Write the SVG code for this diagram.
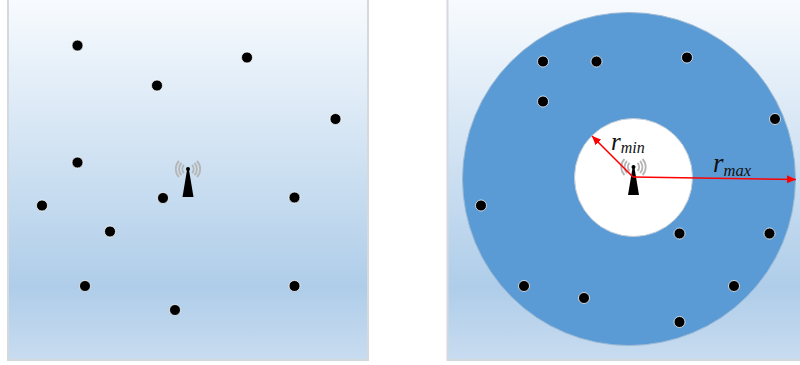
<svg xmlns="http://www.w3.org/2000/svg" width="800" height="365" viewBox="0 0 800 365">
<style>
.panel{fill:url(#bg);stroke:#d4d9de;stroke-width:2}
.d{fill:#000;stroke:#fff;stroke-width:1;stroke-opacity:.75}
.w{fill:none;stroke:#b5b5b5;stroke-width:1.800}
.r{stroke:#f00;stroke-width:1.600;fill:none}
.t{font-family:"Liberation Serif",serif;font-style:italic;fill:#111}
</style>
<defs>
<linearGradient id="bg" x1="0" y1="0" x2="0" y2="1">
<stop offset="0" stop-color="#f8fbfe"/>
<stop offset=".8" stop-color="#afcde9"/>
<stop offset="1" stop-color="#c8dcf0"/>
</linearGradient>
<marker id="a" markerWidth="12" markerHeight="8" refX="9" refY="4" orient="auto" markerUnits="userSpaceOnUse"><path d="M0 0L9 4L0 8Z" fill="#f00"/></marker>
<g id="tower">
<path class="w" d="M-4 -5A5.500 5.500 0 0 0 -4 3M4 -5A5.500 5.500 0 0 1 4 3"/>
<path class="w" d="M-6.500 -7A8.500 8.500 0 0 0 -6.500 5M6.500 -7A8.500 8.500 0 0 1 6.500 5"/>
<path class="w" d="M-9 -9A11.500 11.500 0 0 0 -9 7M9 -9A11.500 11.500 0 0 1 9 7"/>
<circle cx="0" cy="-1" r="2" fill="#000"/>
<path d="M-1 0H1L5.500 27H-5.500Z" fill="#000"/>
</g>
</defs>
<g id="left-panel">
<rect class="panel" x="8" y="-2" width="360" height="362"/>
</g>
<g id="right-panel">
<rect class="panel" x="447.500" y="-2" width="360" height="362"/>
</g>
<g id="coverage">
<circle cx="629" cy="179" r="166.500" fill="#5b9bd5" stroke="#9dbad4" stroke-width="1"/>
<circle cx="633.500" cy="177.500" r="59" fill="#fff" stroke="#bfcbd6" stroke-width="1"/>
</g>
<g id="left-tower"><use href="#tower" x="188" y="170"/></g>
<g id="right-tower"><use href="#tower" x="633.500" y="168"/></g>
<g id="left-users">
<circle class="d" cx="77.500" cy="45.500" r="5.500"/>
<circle class="d" cx="247" cy="57.500" r="5.500"/>
<circle class="d" cx="157" cy="85.500" r="5.500"/>
<circle class="d" cx="335.500" cy="119" r="5.500"/>
<circle class="d" cx="77.500" cy="162.500" r="5.500"/>
<circle class="d" cx="163" cy="198" r="5.500"/>
<circle class="d" cx="294.500" cy="197.500" r="5.500"/>
<circle class="d" cx="42" cy="205.500" r="5.500"/>
<circle class="d" cx="110" cy="231.500" r="5.500"/>
<circle class="d" cx="85" cy="286" r="5.500"/>
<circle class="d" cx="294.500" cy="286" r="5.500"/>
<circle class="d" cx="175" cy="310" r="5.500"/>
</g>
<g id="right-users">
<circle class="d" cx="543" cy="61.500" r="5.500"/>
<circle class="d" cx="596.500" cy="61.500" r="5.500"/>
<circle class="d" cx="687" cy="57.500" r="5.500"/>
<circle class="d" cx="543" cy="101.500" r="5.500"/>
<circle class="d" cx="775" cy="119" r="5.500"/>
<circle class="d" cx="481" cy="205.500" r="5.500"/>
<circle class="d" cx="679.500" cy="233.500" r="5.500"/>
<circle class="d" cx="769.500" cy="233.500" r="5.500"/>
<circle class="d" cx="524" cy="286" r="5.500"/>
<circle class="d" cx="734" cy="286" r="5.500"/>
<circle class="d" cx="584" cy="298" r="5.500"/>
<circle class="d" cx="679.500" cy="322" r="5.500"/>
</g>
<g id="connectors">
<line class="r" x1="633" y1="177" x2="592" y2="136" marker-end="url(#a)"/>
<line class="r" x1="633" y1="177" x2="796" y2="179.500" marker-end="url(#a)"/>
</g>
<g id="labels">
<text class="t" x="611" y="150" font-size="25">r<tspan font-size="16" dy="3">min</tspan></text>
<text class="t" x="713" y="172" font-size="27">r<tspan font-size="16.500" dy="4">max</tspan></text>
</g>
</svg>
